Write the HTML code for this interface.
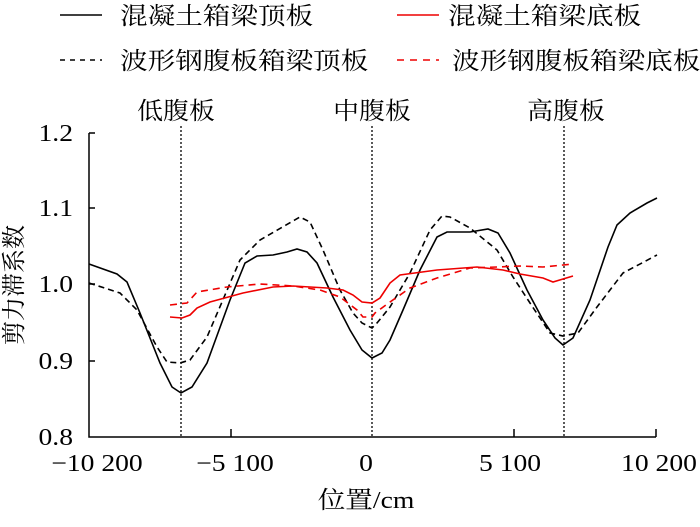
<!DOCTYPE html>
<html><head><meta charset="utf-8"><style>body{margin:0;background:#fff}</style></head><body>
<svg width="700" height="522" xmlns="http://www.w3.org/2000/svg" font-family="'Liberation Serif','Noto Serif CJK SC',serif" font-size="24">
<rect width="700" height="522" fill="#fff"/>
<g stroke-width="1.6" fill="none">
<line x1="60" y1="15" x2="102" y2="15" stroke="#000"/>
<line x1="60" y1="60" x2="102" y2="60" stroke="#000" stroke-dasharray="5,5"/>
<line x1="397" y1="15" x2="439" y2="15" stroke="#e00"/>
<line x1="397" y1="60" x2="439" y2="60" stroke="#e00" stroke-dasharray="7,6"/>
</g>
<text transform="translate(120,24) scale(1.15,1)">混凝土箱梁顶板</text>
<text transform="translate(120,69) scale(1.15,1)">波形钢腹板箱梁顶板</text>
<text transform="translate(448,24) scale(1.15,1)">混凝土箱梁底板</text>
<text transform="translate(452,69) scale(1.15,1)">波形钢腹板箱梁底板</text>
<g text-anchor="middle">
<text transform="translate(176,119) scale(1.08,1)">低腹板</text>
<text transform="translate(372,119) scale(1.08,1)">中腹板</text>
<text transform="translate(566,119) scale(1.08,1)">高腹板</text>
</g>
<g stroke="#000" stroke-width="1.3" stroke-dasharray="2,2">
<line x1="181" y1="126" x2="181" y2="437"/><line x1="372" y1="126" x2="372" y2="437"/><line x1="564" y1="126" x2="564" y2="437"/>
</g>
<g stroke="#000" stroke-width="1.5" fill="none">
<polyline points="89,133 89,437 656,437"/>
<line x1="89" y1="208" x2="95" y2="208"/><line x1="89" y1="284" x2="95" y2="284"/><line x1="89" y1="361" x2="95" y2="361"/><line x1="89" y1="133" x2="95" y2="133"/>
<line x1="231" y1="437" x2="231" y2="429"/><line x1="514" y1="437" x2="514" y2="429"/><line x1="656" y1="437" x2="656" y2="429"/>
</g>
<g text-anchor="end">
<text transform="translate(73,141) scale(1.15,1)">1.2</text>
<text transform="translate(73,216) scale(1.15,1)">1.1</text>
<text transform="translate(73,292) scale(1.15,1)">1.0</text>
<text transform="translate(73,369) scale(1.15,1)">0.9</text>
<text transform="translate(73,445) scale(1.15,1)">0.8</text>
</g>
<g text-anchor="middle">
<text transform="translate(97,471) scale(1.15,1)">−10 200</text>
<text transform="translate(235,471) scale(1.15,1)">−5 100</text>
<text transform="translate(366,471) scale(1.15,1)">0</text>
<text transform="translate(510,471) scale(1.15,1)">5 100</text>
<text transform="translate(659,471) scale(1.15,1)">10 200</text>
<text transform="translate(366,508) scale(1.15,1)">位置/cm</text>
</g>
<text transform="translate(22,285) rotate(-90)" text-anchor="middle">剪力滞系数</text>
<g fill="none" stroke-width="1.6">
<polyline stroke="#000" points="89,264 117,274 127,282 140,313 160,363 172,387 181,393 192,387 207,363 230,300 245,263 257,256 273,255 287,252 297,249 307,252 317,263 333,297 350,330 362,350 372,358 382,353 390,340 403,310 420,270 437,237 447,232 470,232 488,229 498,233 510,253 527,290 543,320 555,338 563,345 573,338 590,300 608,247 617,225 630,213 647,203 657,198"/>
<polyline stroke="#000" stroke-dasharray="6,4" points="89,283 120,293 137,310 157,347 167,362 180,363 190,360 207,337 240,260 260,240 300,217 310,222 323,250 340,290 353,313 362,323 372,328 377,323 390,307 410,273 430,230 442,216 450,217 470,228 497,250 513,277 530,303 550,333 563,336 578,333 597,307 623,273 657,255"/>
<polyline stroke="#e00" points="170,317 182,318 190,315 197,308 210,302 243,293 273,287 293,286 327,288 343,290 353,295 362,302 372,303 380,298 390,283 400,275 437,270 477,267 503,270 520,274 543,278 553,282 563,279 573,276"/>
<polyline stroke="#e00" stroke-dasharray="7,5" points="170,305 187,303 197,292 227,287 260,284 293,286 320,290 340,297 357,310 363,317 372,317 375,313 390,302 410,288 437,278 470,268 497,267 520,266 543,267 573,264"/>
</g>
</svg>
</body></html>
